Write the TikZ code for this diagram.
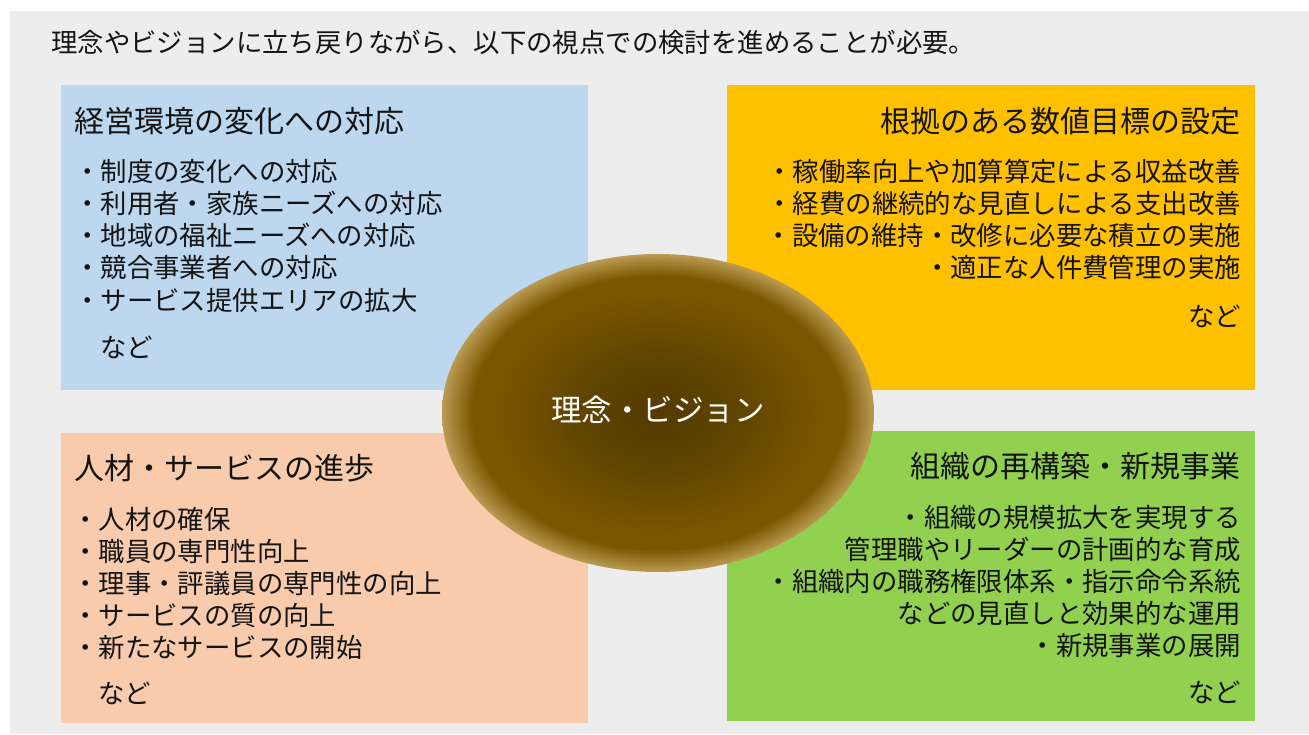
\documentclass[tikz,border=0pt]{standalone}
\usepackage{fontspec}
\usetikzlibrary{shapes.geometric}
\newfontfamily\jp{Noto Sans CJK JP}
\definecolor{bggray}{HTML}{EDEDED}
\definecolor{qblue}{HTML}{BDD7EE}
\definecolor{qorange}{HTML}{FFC000}
\definecolor{qpeach}{HTML}{F8CBAD}
\definecolor{qgreen}{HTML}{92D050}
\definecolor{ink}{HTML}{141414}
\definecolor{vcA}{HTML}{533B00}
\definecolor{vcB}{HTML}{604400}
\definecolor{vcC}{HTML}{7A5600}
\definecolor{vcD}{HTML}{BA9B52}
\pgfdeclareradialshading{visionshade}{\pgfpoint{0bp}{0bp}}{color(0bp)=(vcA); color(9bp)=(vcB); color(19bp)=(vcC); color(21.5bp)=(vcC); color(25bp)=(vcD); color(50bp)=(vcD)}
\begin{document}
\begin{tikzpicture}[x=1pt,y=-1pt,
  quad/.style={anchor=north west, inner sep=0pt, outer sep=0pt, draw=none},
  ttl/.style={inner sep=0pt, text=ink, font=\jp\fontsize{30}{30}\selectfont},
  itm/.style={inner sep=0pt, text=ink, font=\jp\fontsize{26.4}{26.4}\selectfont},
  toptext/.style={inner sep=0pt, text=ink, font=\jp\fontsize{26.4}{26.4}\selectfont}]
\useasboundingbox (0,0) rectangle (1309,734);
\fill[white] (0,0) rectangle (1309,734);
\fill[bggray] (10,11) rectangle (1309,734);
% top sentence
\node[toptext, anchor=base west] (intro) at (51,52) {理念やビジョンに立ち戻りながら、以下の視点での検討を進めることが必要。};
% quadrants
\node[quad, fill=qblue, minimum width=527pt, minimum height=305pt] (qa) at (61,85) {};
\node[quad, fill=qorange, minimum width=528pt, minimum height=305pt] (qb) at (727,85) {};
\node[quad, fill=qpeach, minimum width=527pt, minimum height=290pt] (qc) at (61,433) {};
\node[quad, fill=qgreen, minimum width=528pt, minimum height=290pt] (qd) at (727,431) {};
% blue quadrant
\node[ttl, anchor=base west] (qat) at (74,132.4) {経営環境の変化への対応};
\foreach \t [count=\i] in {・制度の変化への対応,・利用者・家族ニーズへの対応,・地域の福祉ニーズへの対応,・競合事業者への対応,・サービス提供エリアの拡大}
  \node[itm, anchor=base west] (qa\i) at (74,{181+(\i-1)*32.3}) {\t};
\node[itm, anchor=base west] (qaetc) at (100,357.6) {など};
% orange quadrant
\node[ttl, anchor=base east] (qbt) at (1241,132.4) {根拠のある数値目標の設定};
\foreach \t [count=\i] in {・稼働率向上や加算算定による収益改善,・経費の継続的な見直しによる支出改善,・設備の維持・改修に必要な積立の実施,・適正な人件費管理の実施}
  \node[itm, anchor=base east] (qb\i) at (1241,{181+(\i-1)*32.3}) {\t};
\node[itm, anchor=base east] (qbetc) at (1241,326) {など};
% peach quadrant
\node[ttl, anchor=base west] (qct) at (74,479.4) {人材・サービスの進歩};
\foreach \t [count=\i] in {・人材の確保,・職員の専門性向上,・理事・評議員の専門性の向上,・サービスの質の向上,・新たなサービスの開始}
  \node[itm, anchor=base west] (qc\i) at (72,{529+(\i-1)*32.2}) {\t};
\node[itm, anchor=base west] (qcetc) at (98,703) {など};
% green quadrant
\node[ttl, anchor=base east] (qdt) at (1241,477.4) {組織の再構築・新規事業};
\foreach \t [count=\i] in {・組織の規模拡大を実現する,管理職やリーダーの計画的な育成,・組織内の職務権限体系・指示命令系統,などの見直しと効果的な運用,・新規事業の展開}
  \node[itm, anchor=base east] (qd\i) at (1241,{527+(\i-1)*32.2}) {\t};
\node[itm, anchor=base east] (qdetc) at (1241,702) {など};
% central ellipse
\node[ellipse, minimum width=432pt, minimum height=318pt, inner sep=0pt,
      shading=visionshade] (vision) at (658,413) {};
\node[inner sep=0pt, text=white, font=\jp\fontsize{30.5}{30.5}\selectfont, anchor=base] (visiontext) at (vision.center) [yshift=-8.5pt] {理念・ビジョン};
\end{tikzpicture}
\end{document}
